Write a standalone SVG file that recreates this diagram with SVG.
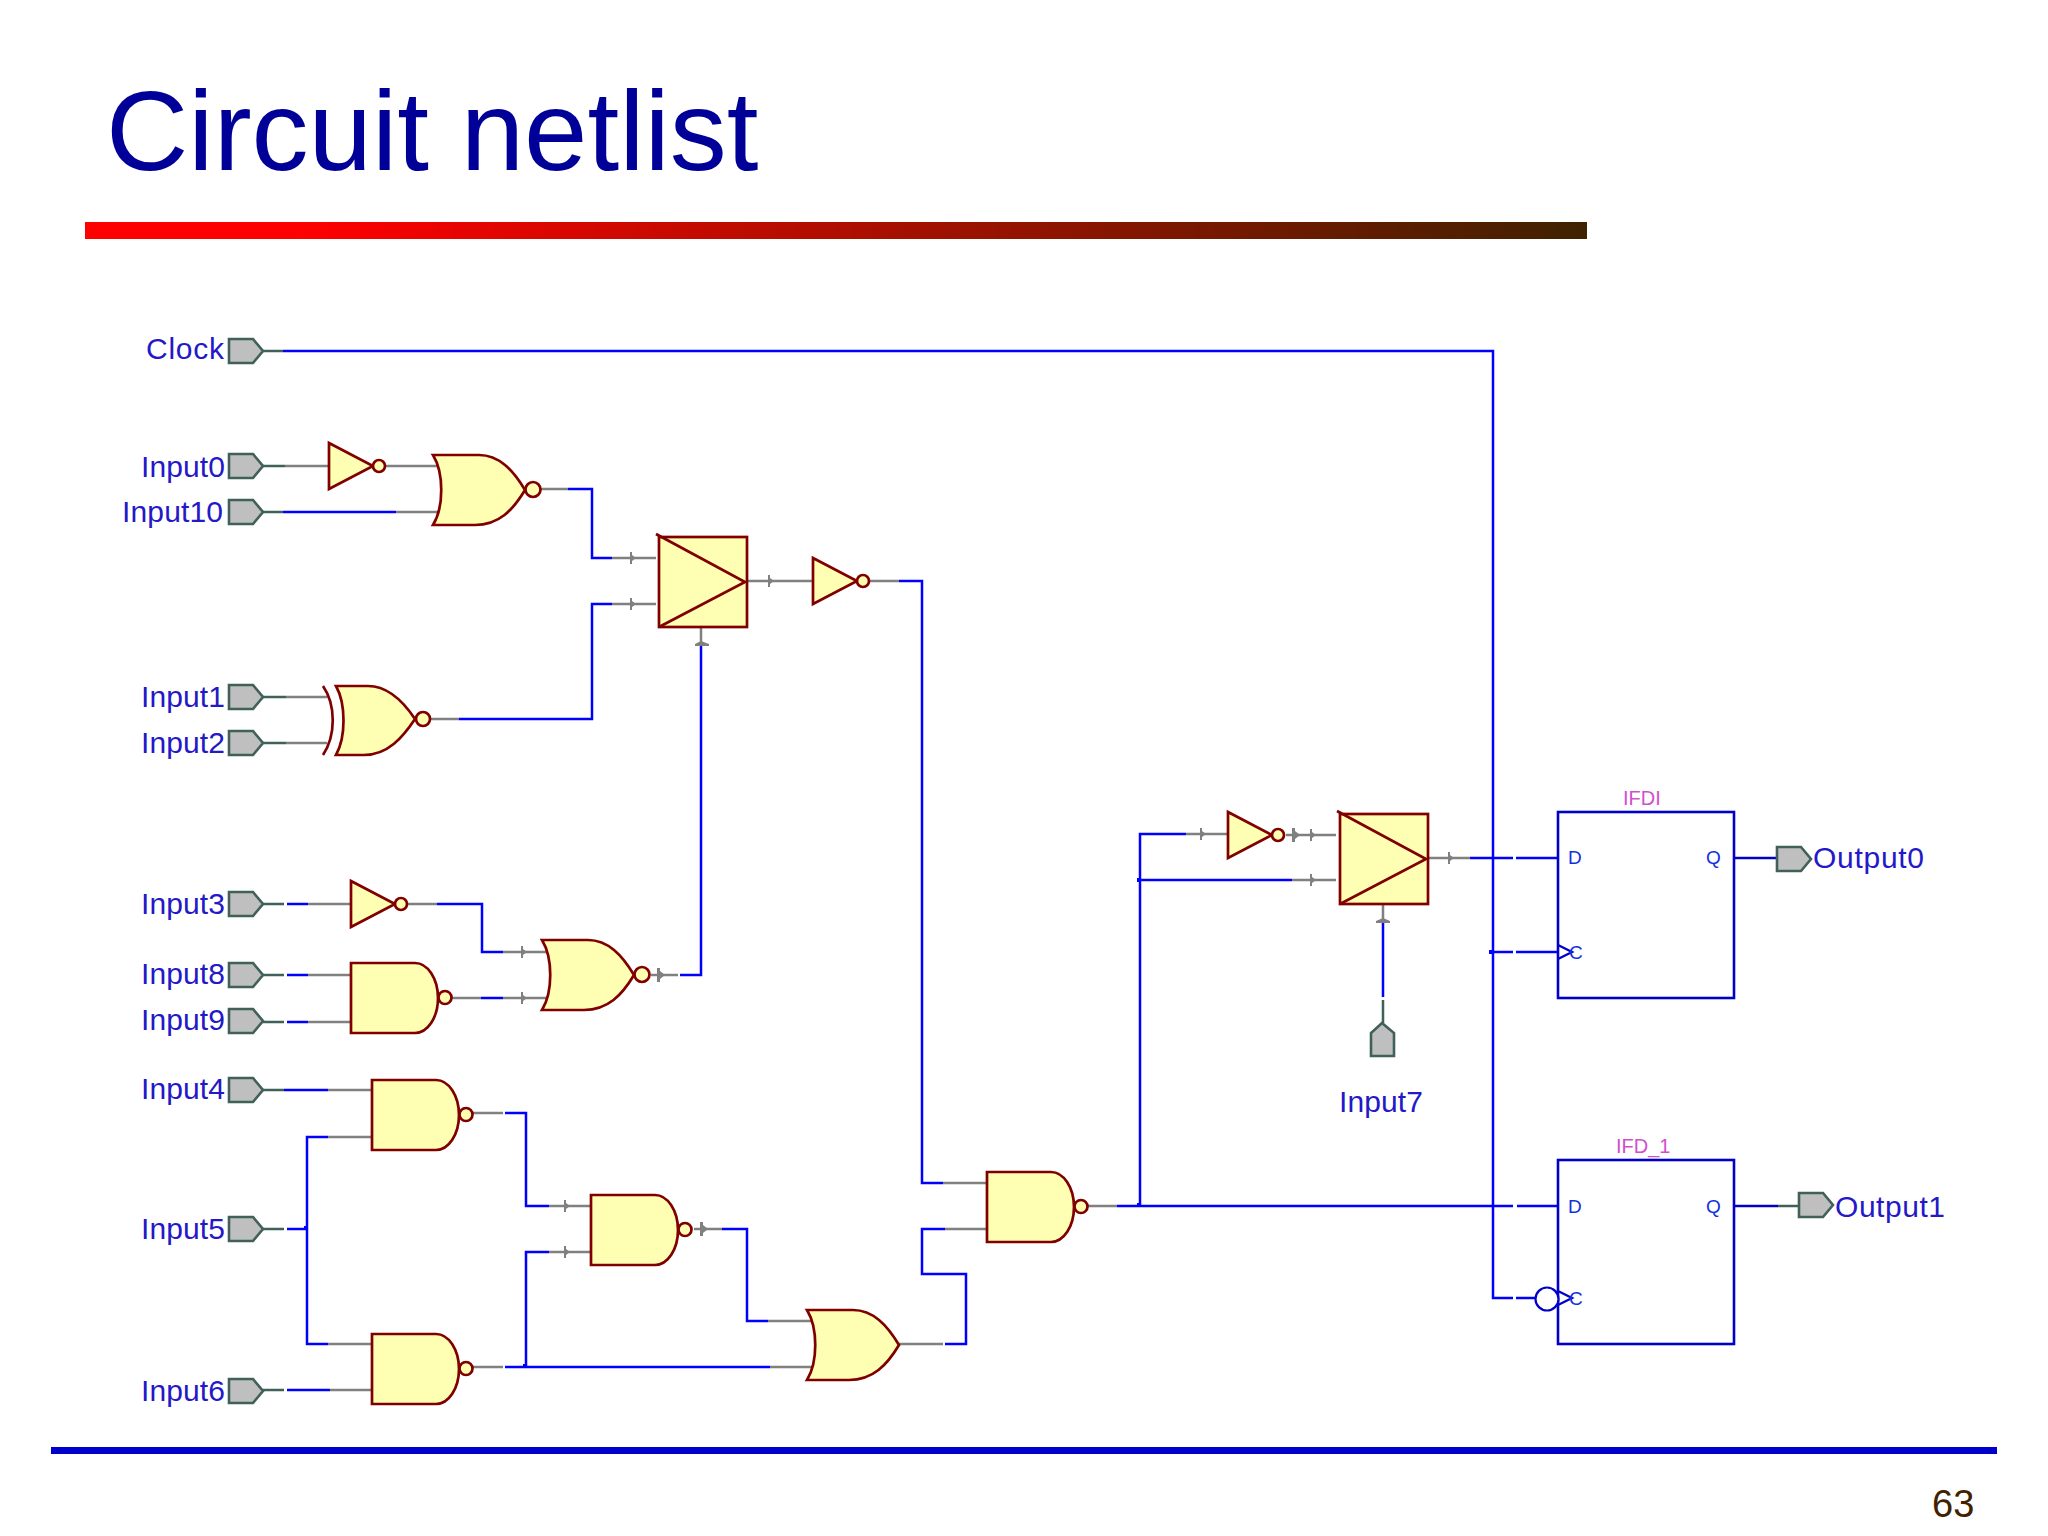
<svg xmlns="http://www.w3.org/2000/svg" width="2048" height="1536" viewBox="0 0 2048 1536">
<style>
.bg{fill:#fff}
.title{font:114px "Liberation Sans",Arial,sans-serif;fill:#000099}
.pg{font:38px "Liberation Sans",Arial,sans-serif;fill:#3f2200}
.lbl{font:30px "Liberation Sans",Arial,sans-serif;fill:#2418c8}
.pin{font:19px "Liberation Sans",Arial,sans-serif;fill:#1030e0}
.inst{font:20px "Liberation Sans",Arial,sans-serif;fill:#d050cc}
.gate{fill:#ffffb4;stroke:#800000;stroke-width:2.7;stroke-linejoin:miter}
.arc{fill:none;stroke:#800000;stroke-width:2.7}
.port{fill:#bfbfbf;stroke:#40605a;stroke-width:2.6;stroke-linejoin:miter}
.ff{fill:none;stroke:#0000c8;stroke-width:2.6}
.ffw{fill:none;stroke:#0000c8;stroke-width:2.3}
.w{fill:none;stroke:#0000ff;stroke-width:2.5}
.g{fill:none;stroke:#808080;stroke-width:2.5}
.d{fill:none;stroke:#40605a;stroke-width:2.5}
.t{fill:#808080}
.j{fill:#0000ff}
</style>
<defs>
<linearGradient id="bar" x1="0" x2="1" y1="0" y2="0"><stop offset="0.14" stop-color="#ff0000"/><stop offset="1" stop-color="#3f2200"/></linearGradient>
<g id="port"><polygon class="port" points="-34,-12 -10,-12 0,0 -10,12 -34,12"/></g>
<g id="nand"><path class="gate" d="M0,-35H64A23 35 0 0 1 64,35H0Z"/><circle class="gate" cx="94" cy="-0.5" r="6.5"/></g>
<g id="inv"><polygon class="gate" points="0,-23 44,0 0,23"/><circle class="gate" cx="50" cy="0" r="6"/></g>
<g id="or"><path class="gate" d="M0,-35H46C66,-35 80,-20 92,0C80,20 66,35 42,35H0C11,17 11,-17 0,-35Z"/></g>
<g id="nor"><use href="#or"/><circle class="gate" cx="100" cy="-0.5" r="7.5"/></g>
<g id="box"><rect class="gate" x="0" y="0" width="88" height="90"/><polyline class="arc" points="-3,-3 86,45 0,90"/></g>
<path id="tick" class="t" d="M-2,-6H0V-3L4,0L0,3V6H-2Z"/>
<path id="tick2" class="t" d="M-3,-7H0V-4L5,0L0,4V7H-3Z"/>
</defs>
<rect class="bg" width="2048" height="1536"/>
<text class="title" x="106" y="170">Circuit netlist</text>
<rect x="85" y="222" width="1502" height="17" fill="url(#bar)"/>
<rect x="51" y="1447" width="1946" height="7" fill="#0000cc"/>
<text class="pg" x="1932" y="1517">63</text>

<g id="connectors">
<path class="d" d="M263 351H283M263 466H285M263 512H283M263 697H286M263 743H286M263 904H284M263 975H284M263 1022H284M263 1090H284M263 1229H284M263 1390H284M1383 1000V1023"/>
<path class="g" d="M285 466H329M385 466H437M396 512H441M541 489H568M612 558H656M286 697H327M286 743H327M430 719H459M612 604H656M747 581H813M870 581H899M943 1183H987M701 628V646M651 975H678M308 904H351M408 904H437M503 952H547M308 975H351M308 1022H351M452 998H481M503 998H547M328 1090H372M328 1137H372M328 1344H372M330 1390H372M473 1113H503M473 1367H503M549 1206H591M549 1252H591M694 1229H722M768 1321H812M770 1367H812M899 1344H943M945 1229H987M1088 1206H1117M1186 834H1228M1286 835H1336M1292 880H1336M1427 858H1470M1383 905V923"/>
<path class="w" d="M283 351H1493V1298H1513M1516 1298H1537M283 512H396M568 489H592V558H612M459 719H592V604H612M899 581H922V1183H943M701 646V975H680M287 904H308M437 904H482V952H503M287 975H308M287 1022H308M481 998H503M284 1090H328M328 1137H307V1344H328M287 1229H307M287 1390H330M505 1113H526V1206H549M505 1367H770M526 1367V1252H549M722 1229H747V1321H768M945 1344H966V1274H922V1229H945M1117 1206H1513M1517 1206H1558M1140 1206V834H1186M1140 880H1292M1470 858H1513M1516 858H1558M1491 952H1513M1516 952H1558M1383 923V997"/>
<path class="ffw" d="M1734 858H1776M1734 1206H1778"/>
<path class="d" d="M1778 1206H1798"/>
<rect class="j" x="1137" y="878" width="4" height="4"/>
<rect class="j" x="1489" y="950" width="4" height="4"/>
<rect class="j" x="304" y="1226" width="3" height="3"/>
<rect class="j" x="523" y="1364" width="3" height="3"/>
<rect class="j" x="1137" y="1203" width="3" height="3"/>
<use href="#tick" x="632" y="558"/><use href="#tick" x="632" y="604"/><use href="#tick" x="770" y="581"/>
<use href="#tick2" x="660" y="975"/>
<use href="#tick" x="523" y="952"/><use href="#tick" x="523" y="998"/>
<use href="#tick" x="566" y="1206"/><use href="#tick" x="566" y="1252"/>
<use href="#tick2" x="703" y="1229"/>
<use href="#tick" x="1202" y="834"/><use href="#tick2" x="1295" y="835"/><use href="#tick" x="1312" y="835"/><use href="#tick" x="1312" y="880"/><use href="#tick" x="1450" y="858"/>
<path class="t" d="M695 644L701 641L709 644V646H695Z"/>
<path class="t" d="M1376 921L1383 918L1390 921V923H1376Z"/>
</g>

<g id="clock"><use href="#port" x="263" y="351"/><text class="lbl" x="146" y="359" textLength="78">Clock</text></g>
<g id="input0"><use href="#port" x="263" y="466"/><text class="lbl" x="141" y="477" textLength="84">Input0</text></g>
<g id="input10"><use href="#port" x="263" y="512"/><text class="lbl" x="122" y="522" textLength="101">Input10</text></g>
<g id="input1"><use href="#port" x="263" y="697"/><text class="lbl" x="141" y="707" textLength="84">Input1</text></g>
<g id="input2"><use href="#port" x="263" y="743"/><text class="lbl" x="141" y="753" textLength="84">Input2</text></g>
<g id="input3"><use href="#port" x="263" y="904"/><text class="lbl" x="141" y="914" textLength="84">Input3</text></g>
<g id="input8"><use href="#port" x="263" y="975"/><text class="lbl" x="141" y="984" textLength="84">Input8</text></g>
<g id="input9"><use href="#port" x="263" y="1021"/><text class="lbl" x="141" y="1030" textLength="84">Input9</text></g>
<g id="input4"><use href="#port" x="263" y="1090"/><text class="lbl" x="141" y="1099" textLength="84">Input4</text></g>
<g id="input5"><use href="#port" x="263" y="1229"/><text class="lbl" x="141" y="1239" textLength="84">Input5</text></g>
<g id="input6"><use href="#port" x="263" y="1391"/><text class="lbl" x="141" y="1401" textLength="84">Input6</text></g>
<g id="input7"><polygon class="port" points="1371,1056 1371,1033 1382,1023 1394,1033 1394,1056"/><text class="lbl" x="1339" y="1112" textLength="84">Input7</text></g>

<g id="inv1" transform="translate(329,466)"><use href="#inv"/></g>
<g id="nor1" transform="translate(433,490)"><use href="#nor"/></g>
<g id="xnor1"><path class="arc" d="M323,686C336,705 336,735 323,755"/><path class="gate" d="M336,686H368C388,686 403,701 415,719C403,737 388,755 364,755H336C346,737 346,704 336,686Z"/><circle class="gate" cx="423" cy="719" r="7"/></g>
<g id="buf1" transform="translate(659,537)"><use href="#box"/></g>
<g id="inv2" transform="translate(813,581)"><use href="#inv"/></g>
<g id="inv3" transform="translate(351,904)"><use href="#inv"/></g>
<g id="nand1" transform="translate(351,998)"><use href="#nand"/></g>
<g id="nor2" transform="translate(542,975)"><use href="#nor"/></g>
<g id="nand2" transform="translate(372,1115)"><use href="#nand"/></g>
<g id="nand3" transform="translate(372,1369)"><use href="#nand"/></g>
<g id="nand4" transform="translate(591,1230)"><use href="#nand"/></g>
<g id="or1" transform="translate(807,1345)"><use href="#or"/></g>
<g id="nand5" transform="translate(987,1207)"><use href="#nand"/></g>
<g id="inv4" transform="translate(1228,835)"><use href="#inv"/></g>
<g id="buf2" transform="translate(1340,814)"><use href="#box"/></g>

<g id="ifd0"><rect class="ff" x="1558" y="812" width="176" height="186"/><path class="ffw" d="M1558 945L1572 952L1558 959"/><text class="inst" x="1623" y="805">IFDI</text><text class="pin" x="1568" y="864">D</text><text class="pin" x="1706" y="864">Q</text><text class="pin" x="1569" y="959">C</text></g>
<g id="ifd1"><rect class="ff" x="1558" y="1160" width="176" height="184"/><path class="ffw" d="M1558 1291L1572 1298L1558 1305"/><circle cx="1547" cy="1299" r="11.5" fill="#fff" stroke="#0000c8" stroke-width="2.2"/><text class="inst" x="1616" y="1153">IFD_1</text><text class="pin" x="1568" y="1213">D</text><text class="pin" x="1706" y="1213">Q</text><text class="pin" x="1569" y="1305">C</text></g>
<g id="output0"><use href="#port" x="1811" y="859"/><text class="lbl" x="1813" y="868" textLength="111">Output0</text></g>
<g id="output1"><use href="#port" x="1833" y="1205"/><text class="lbl" x="1835" y="1217" textLength="110">Output1</text></g>
</svg>
